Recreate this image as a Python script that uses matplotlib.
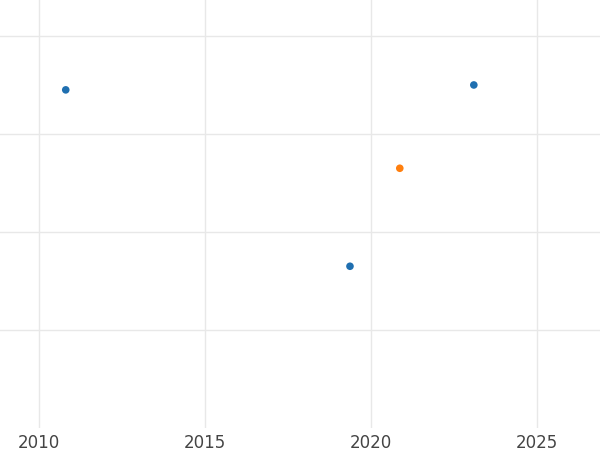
import matplotlib
matplotlib.use("Agg")
import matplotlib.pyplot as plt

x_blue = [2010.81, 2023.1, 2019.37]
y_blue = [3.45, 3.5, 1.65]
x_orange = [2020.87]
y_orange = [2.65]
xticks = [2010, 2015, 2020, 2025]

fig = plt.figure(figsize=(6, 4.5), dpi=100)
ax = fig.add_axes([0, 0.049, 1, 0.951])
ax.scatter(x_blue, y_blue, color="#1f6fb0", s=30, zorder=3, edgecolors="none")
ax.scatter(x_orange, y_orange, color="#ff7f0e", s=30, zorder=3, edgecolors="none")
ax.set_xlim(2008.83, 2026.9)
ax.set_ylim(0, 4.367)
ax.set_xticks(xticks)
ax.set_xticklabels([str(t) for t in xticks], fontsize=12, color="#444444")
ax.set_yticks([1, 2, 3, 4])
ax.set_yticklabels([])
ax.tick_params(length=0, pad=4)
ax.grid(True, color="#e8e8e8", linewidth=1)
ax.set_axisbelow(True)
for s in ax.spines.values():
    s.set_visible(False)
fig.savefig("out.png", dpi=100)
